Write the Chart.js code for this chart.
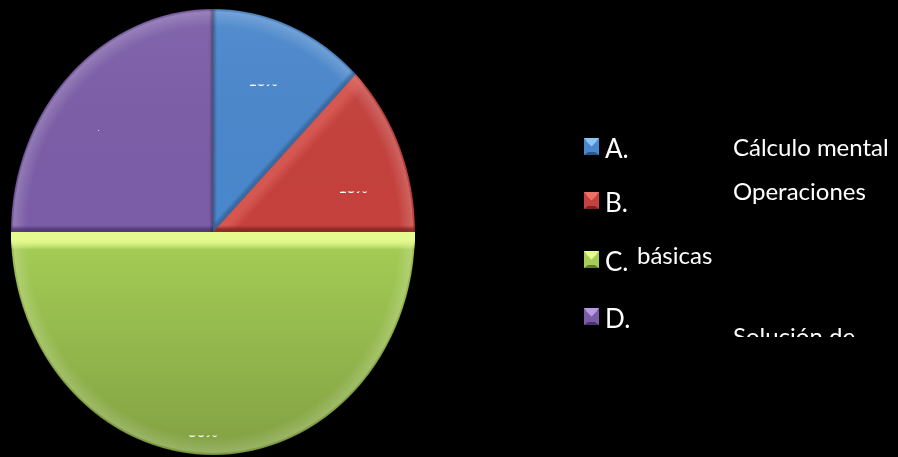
<!DOCTYPE html>
<html>
<head>
<meta charset="utf-8">
<script src="https://cdn.jsdelivr.net/npm/chart.js@4/dist/chart.umd.min.js"></script>
<style>
  html, body { margin: 0; padding: 0; background: #000; overflow: hidden; }
  canvas { display: block; }
</style>
</head>
<body>
<canvas id="chart" width="898" height="457"></canvas>
<script>
// Slice data
const categories = ['A.', 'B.', 'C.', 'D.'];
const topicWords = ['Cálculo mental', 'Operaciones', 'básicas', 'Solución de'];
const counts = [1, 1, 4, 2];

// Styling
const sliceColors = ['#4a87cc', '#c5413d', '#a6ce56', '#7b5da7'];
const sliceLights = ['#8cc4f5', '#ea7168', '#e6fb90', '#b79ce2'];
const sliceDarks  = ['#2a5688', '#7e2220', '#5f7c28', '#4a336e'];
const STRETCH = 1.104;                 // pie is drawn slightly taller than wide
const FONT = 'Lato, "Open Sans", sans-serif';

// percentage labels sit partly hidden; only the lowest sliver of each shows
const labelSpots = [[263, 86, 2], [353, 193, 2], [203, 437, 2], [99, 131, 0.6]];

// legend layout: letter column, wrapped topic text
const legendRows = [158, 212, 271, 328];
const topicSpots = [[733, 156], [733, 200], [637, 264], [733, 345]];
const topicClipBottom = 337;

function pct(i) {
  const total = counts.reduce((a, b) => a + b, 0);
  return Math.round(counts[i] / total * 100) + '%';
}

function drawBevel(ctx, el, i) {
  const { x, y, startAngle: s, endAngle: e, outerRadius: r } = el;
  ctx.save();
  ctx.beginPath();
  ctx.moveTo(x, y);
  ctx.arc(x, y, r, s, e);
  ctx.closePath();
  ctx.clip();

  // soft top-to-bottom shading across the whole pie
  const shade = ctx.createLinearGradient(0, y - r, 0, y + r);
  shade.addColorStop(0, 'rgba(255,255,255,0.06)');
  shade.addColorStop(0.5, 'rgba(0,0,0,0)');
  shade.addColorStop(1, 'rgba(0,0,0,0.22)');
  ctx.fillStyle = shade;
  ctx.fillRect(x - r, y - r, 2 * r, 2 * r);

  // rounded rim along the outer edge
  const rim = ctx.createRadialGradient(x, y, r * 0.92, x, y, r);
  rim.addColorStop(0, 'rgba(255,255,255,0)');
  rim.addColorStop(0.6, 'rgba(255,255,255,0.12)');
  rim.addColorStop(0.85, 'rgba(255,255,255,0.18)');
  rim.addColorStop(0.96, 'rgba(0,0,0,0.05)');
  rim.addColorStop(1, 'rgba(0,0,0,0.35)');
  ctx.fillStyle = rim;
  ctx.fillRect(x - r, y - r, 2 * r, 2 * r);

  // bevel along the two straight edges, lit from above
  const edges = [[s, s - Math.PI / 2], [e, e + Math.PI / 2]];
  edges.forEach(([a, na]) => {
    const nx = Math.cos(na), ny = Math.sin(na);   // outward normal
    const lit = -ny;
    if (Math.abs(lit) < 0.05) {
      const g = ctx.createLinearGradient(x, y, x - nx * 4, y - ny * 4);
      g.addColorStop(0, 'rgba(0,0,0,0.3)');
      g.addColorStop(1, 'rgba(0,0,0,0)');
      ctx.fillStyle = g;
      ctx.fillRect(x - r, y - r, 2 * r, 2 * r);
      return;
    }
    const depth = lit > 0 ? 16 : 6;
    const g = ctx.createLinearGradient(x, y, x - nx * depth, y - ny * depth);
    const col = lit > 0 ? sliceLights[i] : sliceDarks[i];
    ctx.globalAlpha = lit > 0 ? lit * lit * 0.9 : Math.abs(lit) * 0.8;
    g.addColorStop(0, col);
    g.addColorStop(0.4, col);
    g.addColorStop(1, col + '00');
    ctx.fillStyle = g;
    ctx.fillRect(x - r, y - r, 2 * r, 2 * r);
    ctx.globalAlpha = 1;
  });
  ctx.restore();
}

const pieStyle = {
  id: 'pieStyle',
  beforeDatasetsDraw(chart) {
    const arc = chart.getDatasetMeta(0).data[0];
    const ctx = chart.ctx;
    ctx.save();
    ctx.translate(arc.x, arc.y);
    ctx.scale(1, STRETCH);
    ctx.translate(-arc.x, -arc.y);
  },
  afterDatasetsDraw(chart) {
    const ctx = chart.ctx;
    chart.getDatasetMeta(0).data.forEach((el, i) => drawBevel(ctx, el, i));
    ctx.restore();
  },
  afterDraw(chart) {
    const ctx = chart.ctx;
    // value labels
    ctx.save();
    ctx.font = 'bold 15px ' + FONT;
    ctx.fillStyle = '#ffffff';
    ctx.textAlign = 'center';
    ctx.textBaseline = 'alphabetic';
    labelSpots.forEach(([lx, ly, h], i) => {
      ctx.save();
      ctx.beginPath();
      if (h < 1) ctx.rect(lx - 1, ly - 1, 1.5, 1); else ctx.rect(lx - 20, ly - h + 0.5, 40, h);
      ctx.clip();
      ctx.fillText(pct(i), lx, ly);
      ctx.restore();
    });
    ctx.restore();

    // legend
    ctx.save();
    legendRows.forEach((by, i) => {
      const mx = 584, my = by - 20, mw = 15, mh = 17;
      const cx = mx + mw / 2, cy = my + mh / 2;
      const tri = (pts, c) => {
        ctx.beginPath();
        ctx.moveTo(pts[0][0], pts[0][1]);
        pts.slice(1).forEach(p => ctx.lineTo(p[0], p[1]));
        ctx.closePath();
        ctx.fillStyle = c;
        ctx.fill();
      };
      ctx.fillStyle = sliceColors[i];
      ctx.fillRect(mx, my, mw, mh);
      tri([[mx, my], [mx + mw, my], [cx, cy]], sliceLights[i]);
      tri([[mx, my + mh], [mx + mw, my + mh], [cx, cy + 3]], sliceDarks[i]);
      ctx.fillStyle = sliceColors[i];
      ctx.fillRect(mx + 2, my + 3, mw - 4, mh - 6);
      tri([[mx + 2, my + 3], [mx + mw - 2, my + 3], [cx, cy]], sliceLights[i]);

      ctx.fillStyle = '#ffffff';
      ctx.font = '26px ' + FONT;
      ctx.textAlign = 'left';
      ctx.textBaseline = 'alphabetic';
      ctx.fillText(categories[i], 605, by);
    });
    ctx.font = '24px ' + FONT;
    topicWords.forEach((w, i) => {
      const [tx, ty] = topicSpots[i];
      ctx.save();
      if (ty > topicClipBottom) {
        ctx.beginPath();
        ctx.rect(tx - 5, ty - 40, 220, topicClipBottom - (ty - 40));
        ctx.clip();
      }
      ctx.fillText(w, tx, ty);
      ctx.restore();
    });
    ctx.restore();
  }
};

new Chart(document.getElementById('chart'), {
  type: 'pie',
  data: {
    labels: categories.map((c, i) => c + ' ' + topicWords[i]),
    datasets: [{
      data: counts,
      backgroundColor: sliceColors,
      borderWidth: 0,
      hoverOffset: 0
    }]
  },
  options: {
    responsive: false,
    animation: false,
    events: [],
    layout: { padding: { left: 11, right: 483, top: 30, bottom: 23 } },
    plugins: {
      legend: { display: false },
      tooltip: { enabled: false }
    }
  },
  plugins: [pieStyle]
});
</script>
</body>
</html>
